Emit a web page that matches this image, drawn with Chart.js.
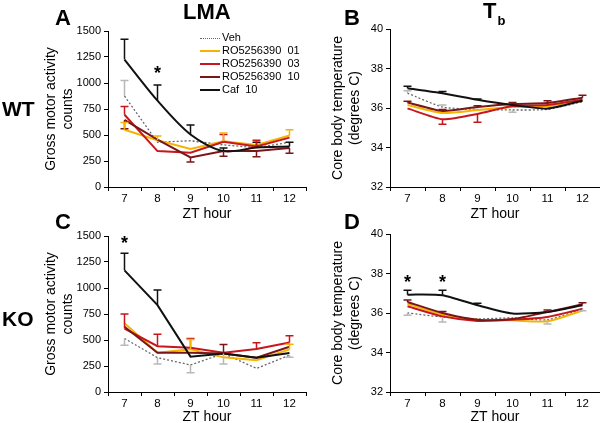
<!DOCTYPE html>
<html>
<head>
<meta charset="utf-8">
<script src="https://cdn.jsdelivr.net/npm/chart.js@4/dist/chart.umd.min.js"></script>
<style>
  html, body { margin: 0; padding: 0; background: #fff; overflow: hidden; }
  body { width: 600px; height: 423px; position: relative; font-family: "Liberation Sans", Arial, sans-serif; }
  canvas { position: absolute; }
  .lbl { position: absolute; font-weight: bold; color: #000; line-height: 1; white-space: nowrap; }
  .leg { position: absolute; left: 200px; height: 13px; line-height: 13px; font-size: 11px; white-space: pre; }
  .leg span { display: inline-block; width: 20px; vertical-align: middle; margin-right: 2px; }
</style>
</head>
<body>
<canvas id="cA" width="310" height="223" style="left:0;top:0"></canvas>
<canvas id="cB" width="300" height="223" style="left:300px;top:0"></canvas>
<canvas id="cC" width="310" height="216" style="left:0;top:210px"></canvas>
<canvas id="cD" width="300" height="216" style="left:300px;top:210px"></canvas>

<div class="lbl" style="left:55px;top:7px;font-size:22px">A</div>
<div class="lbl" style="left:183px;top:1px;font-size:22px">LMA</div>
<div class="lbl" style="left:344px;top:7px;font-size:22px">B</div>
<div class="lbl" style="left:483px;top:0px;font-size:22px">T<span style="font-size:13px;position:relative;top:7px;left:1px">b</span></div>
<div class="lbl" style="left:2px;top:98px;font-size:21px">WT</div>
<div class="lbl" style="left:55px;top:211px;font-size:22px">C</div>
<div class="lbl" style="left:344px;top:211px;font-size:22px">D</div>
<div class="lbl" style="left:2px;top:308px;font-size:21px">KO</div>

<div class="leg" style="top:31px"><span style="border-top:1.5px dotted #666"></span>Veh</div>
<div class="leg" style="top:44px"><span style="border-top:2px solid #f5b400"></span>RO5256390  01</div>
<div class="leg" style="top:57px"><span style="border-top:2px solid #c8161d"></span>RO5256390  03</div>
<div class="leg" style="top:70px"><span style="border-top:2px solid #7a1618"></span>RO5256390  10</div>
<div class="leg" style="top:83px"><span style="border-top:2px solid #111"></span>Caf  10</div>

<script>
// ZT hours (x categories)
const hours = ['7', '8', '9', '10', '11', '12'];

// A: WT, locomotor activity (counts); err > 0 drawn up, < 0 drawn down
const wtLmaVeh  = [875, 430, 445, 405, 378, 430];
const wtLmaVehErr = [150, 0, 0, 0, 0, 0];
const wtLmaRo01 = [550, 450, 365, 440, 405, 495];
const wtLmaRo01Err = [70, 40, 0, 80, 0, 55];
const wtLmaRo03 = [695, 345, 330, 435, 390, 475];
const wtLmaRo03Err = [80, 0, 0, 70, 60, 0];
const wtLmaRo10 = [645, 455, 285, 345, 345, 375];
const wtLmaRo10Err = [-85, 0, -45, -50, -55, -50];
const wtLmaCaf  = [1225, 830, 505, 345, 380, 390];
const wtLmaCafErr = [195, 150, 90, 30, 50, 40];
const wtLmaStars = [null, 1090, null, null, null, null];

// B: WT, core body temperature (deg C)
const wtTbVeh  = [36.75, 36.05, 35.93, 35.90, 35.93, 36.32];
const wtTbVehErr = [0.12, 0.1, 0, -0.12, 0, 0];
const wtTbRo01 = [36.15, 35.75, 35.90, 36.05, 36.10, 36.38];
const wtTbRo01Err = [0, 0, 0, 0, 0, 0];
const wtTbRo03 = [35.98, 35.43, 35.70, 36.10, 36.15, 36.42];
const wtTbRo03Err = [0, -0.25, -0.42, 0, 0, 0];
const wtTbRo10 = [36.28, 35.85, 36.05, 36.20, 36.25, 36.52];
const wtTbRo10Err = [0.06, 0.08, 0.06, 0.08, 0.12, 0.12];
const wtTbCaf  = [37.00, 36.75, 36.42, 36.15, 35.97, 36.37];
const wtTbCafErr = [0.1, 0.08, 0.04, 0, 0, 0];

// C: KO, locomotor activity (counts)
const koLmaVeh  = [515, 330, 260, 370, 227, 355];
const koLmaVehErr = [-65, -60, -75, -100, 0, -20];
const koLmaRo01 = [660, 378, 410, 333, 305, 410];
const koLmaRo01Err = [0, 0, 95, 0, 0, 50];
const koLmaRo03 = [610, 440, 425, 378, 413, 475];
const koLmaRo03Err = [140, 115, 90, 0, 60, 65];
const koLmaRo10 = [627, 378, 378, 371, 330, 435];
const koLmaRo10Err = [0, 0, 0, 85, 0, 0];
const koLmaCaf  = [1170, 835, 340, 370, 330, 375];
const koLmaCafErr = [165, 145, 0, 0, 0, 0];
const koLmaStars = [1418, null, null, null, null, null];

// D: KO, core body temperature (deg C)
const koTbVeh  = [36.00, 35.80, 35.70, 35.75, 35.66, 36.22];
const koTbVehErr = [-0.12, -0.25, 0, 0, -0.22, -0.1];
const koTbRo01 = [36.47, 35.92, 35.66, 35.63, 35.58, 36.13];
const koTbRo01Err = [0, 0, 0, 0, 0, 0];
const koTbRo03 = [36.34, 35.83, 35.60, 35.66, 35.80, 36.22];
const koTbRo03Err = [0, 0, 0, 0, 0, 0];
const koTbRo10 = [36.56, 36.00, 35.66, 35.70, 36.05, 36.44];
const koTbRo10Err = [0.1, 0.08, 0, 0, 0.1, 0.08];
const koTbCaf  = [36.93, 36.90, 36.39, 35.97, 36.05, 36.39];
const koTbCafErr = [0.22, 0.25, 0.1, 0, 0, 0];
const koTbStars = [37.54, 37.54, null, null, null, null];

const FONT = '"Liberation Sans", Arial, sans-serif';
const colVeh = '#666', colVehErr = '#b8b8b8';
const col01 = '#f5b400', col03 = '#c8161d', col10 = '#7a1618', colCaf = '#111';

// draws error bars + asterisks through the chart scales
function errorBars(stars) {
  return {
    id: 'errBars',
    afterDatasetsDraw(chart) {
      const ctx = chart.ctx, ys = chart.scales.y, xs = chart.scales.x;
      chart.data.datasets.forEach((ds, i) => {
        if (!ds.err) return;
        const meta = chart.getDatasetMeta(i);
        ctx.save();
        ctx.strokeStyle = ds.errColor || ds.borderColor;
        ctx.lineWidth = 1.5;
        meta.data.forEach((pt, j) => {
          const e = ds.err[j];
          if (!e) return;
          const y1 = ys.getPixelForValue(ds.data[j] + e);
          ctx.beginPath();
          ctx.moveTo(pt.x, pt.y); ctx.lineTo(pt.x, y1);
          ctx.moveTo(pt.x - 4, y1); ctx.lineTo(pt.x + 4, y1);
          ctx.stroke();
        });
        ctx.restore();
      });
      if (stars) {
        ctx.save();
        ctx.fillStyle = '#000';
        ctx.font = 'bold 18px ' + FONT;
        ctx.textAlign = 'center';
        ctx.textBaseline = 'middle';
        stars.forEach((v, j) => {
          if (v == null) return;
          ctx.fillText('*', xs.getPixelForValue(j), ys.getPixelForValue(v));
        });
        ctx.restore();
      }
    }
  };
}

function line(data, err, color, tension, extra) {
  return Object.assign({
    data: data, err: err, borderColor: color, backgroundColor: color,
    borderWidth: 2, pointRadius: 0, tension: tension, fill: false
  }, extra || {});
}

function makeChart(id, p) {
  new Chart(document.getElementById(id), {
    type: 'line',
    data: {
      labels: hours,
      datasets: [
        line(p.caf, p.cafErr, colCaf, p.tCaf),
        line(p.ro10, p.ro10Err, col10, p.t),
        line(p.ro03, p.ro03Err, col03, p.t),
        line(p.ro01, p.ro01Err, col01, p.t),
        line(p.veh, p.vehErr, colVeh, p.t, { borderWidth: 1.3, borderDash: [2, 2], errColor: colVehErr })
      ]
    },
    options: {
      responsive: false,
      animation: false,
      layout: { padding: { top: p.padTop, right: p.padRight, left: 0, bottom: 0 } },
      plugins: { legend: { display: false }, tooltip: { enabled: false } },
      scales: {
        x: {
          offset: true,
          afterFit: s => { s.height = p.xH; },
          grid: { offset: true, drawOnChartArea: false, drawTicks: true, tickLength: 4, color: '#000' },
          border: { display: true, color: '#000', width: 1 },
          ticks: { color: '#000', font: { family: FONT, size: 11.5 }, padding: 1, maxRotation: 0 },
          title: { display: true, text: 'ZT hour', color: '#000', font: { family: FONT, size: 14, lineHeight: 1.2 }, padding: 0 }
        },
        y: {
          min: p.min, max: p.max,
          afterFit: s => { s.width = p.yW; },
          grid: { drawOnChartArea: false, drawTicks: true, tickLength: 4, color: '#000' },
          border: { display: true, color: '#000', width: 1 },
          ticks: { stepSize: p.step, color: '#000', font: { family: FONT, size: 11 }, padding: 3,
                   callback: v => String(v) },
          title: { display: true, text: p.yTitle, color: '#000', font: { family: FONT, size: 14, lineHeight: 1.25 }, padding: { top: p.yTitlePad, bottom: 0 } }
        }
      }
    },
    plugins: [errorBars(p.stars)]
  });
}

const lmaTitle = ['Gross motor activity', 'counts'];
const tbTitle = ['Core body temperature', '(degrees C)'];

makeChart('cA', {
  veh: wtLmaVeh, vehErr: wtLmaVehErr, ro01: wtLmaRo01, ro01Err: wtLmaRo01Err,
  ro03: wtLmaRo03, ro03Err: wtLmaRo03Err, ro10: wtLmaRo10, ro10Err: wtLmaRo10Err,
  caf: wtLmaCaf, cafErr: wtLmaCafErr, stars: wtLmaStars, t: 0, tCaf: 0.3,
  min: 0, max: 1500, step: 250, yTitle: lmaTitle, yTitlePad: 42,
  padTop: 31, padRight: 4, yW: 108, xH: 36
});
makeChart('cB', {
  veh: wtTbVeh, vehErr: wtTbVehErr, ro01: wtTbRo01, ro01Err: wtTbRo01Err,
  ro03: wtTbRo03, ro03Err: wtTbRo03Err, ro10: wtTbRo10, ro10Err: wtTbRo10Err,
  caf: wtTbCaf, cafErr: wtTbCafErr, stars: null, t: 0.2, tCaf: 0.2,
  min: 32, max: 40, step: 2, yTitle: tbTitle, yTitlePad: 29,
  padTop: 29, padRight: 0, yW: 90, xH: 36
});
makeChart('cC', {
  veh: koLmaVeh, vehErr: koLmaVehErr, ro01: koLmaRo01, ro01Err: koLmaRo01Err,
  ro03: koLmaRo03, ro03Err: koLmaRo03Err, ro10: koLmaRo10, ro10Err: koLmaRo10Err,
  caf: koLmaCaf, cafErr: koLmaCafErr, stars: koLmaStars, t: 0, tCaf: 0,
  min: 0, max: 1500, step: 250, yTitle: lmaTitle, yTitlePad: 42,
  padTop: 26, padRight: 4, yW: 108, xH: 34
});
makeChart('cD', {
  veh: koTbVeh, vehErr: koTbVehErr, ro01: koTbRo01, ro01Err: koTbRo01Err,
  ro03: koTbRo03, ro03Err: koTbRo03Err, ro10: koTbRo10, ro10Err: koTbRo10Err,
  caf: koTbCaf, cafErr: koTbCafErr, stars: koTbStars, t: 0.25, tCaf: 0.2,
  min: 32, max: 40, step: 2, yTitle: tbTitle, yTitlePad: 29,
  padTop: 24, padRight: 0, yW: 90, xH: 34
});
</script>
</body>
</html>
